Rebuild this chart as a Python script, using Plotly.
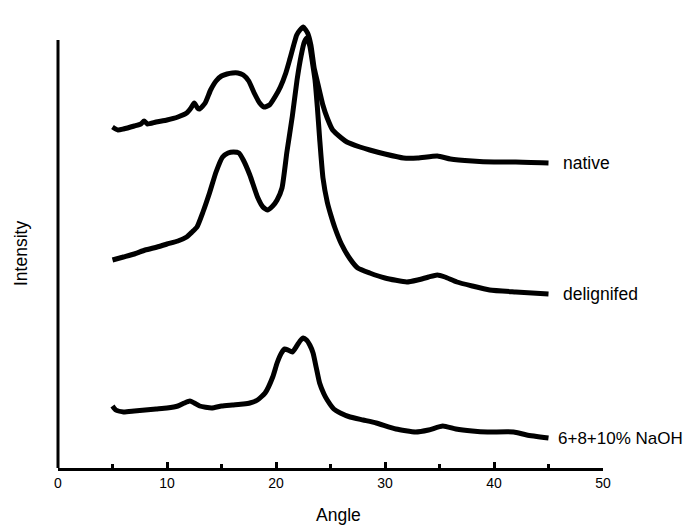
import plotly.graph_objects as go

# Native
x_native = [5,5.5,6,7,7.6,7.9,8.2,9,10,11,11.8,12.2,12.5,12.8,13,13.5,14,14.5,15,15.5,16,16.5,17,17.5,18,18.5,18.9,19.4,19.9,20.4,20.9,21.3,21.9,22.2,22.5,22.9,23.2,23.5,23.76,24.3,24.7,25.2,26.0,26.5,27.7,28.6,30,31.7,33,34.8,36,38,40,42,45]
y_native = [341,338,339,342,344,347,344,346,348,351,355,360,365,360,359,365,378,387,392,394,395,395,393,387,375,365,361,363,371,381,395,410,433,438,441,435,423,400,388,363,350,338,330,326,321,318,314,310,310,312,309,307,306,306,305]

# Delignified
x_delig = [5,6,7,8,9.1,10,11,11.8,12.3,12.75,13.3,13.9,14.5,15.1,15.6,16.1,16.6,17,17.6,18.3,18.8,19.2,19.7,20.1,20.55,21.0,21.5,21.93,22.3,22.6,22.85,23.1,23.35,23.58,23.8,24.0,24.31,24.7,25.0,25.41,26.0,26.8,27.5,28.6,30,32,33,34,34.8,35.5,36.6,38,39.6,42,45]
y_delig = [208,211,214,218,221,224,227,231,236,241,256,275,296,311,315,316,315,308,293,271,261,258,262,268,280,316,352,388,412,426,430,422,405,388,360,330,290,266,254,240,224,209,200,195,190,186,188,191,193,191,186,182,178,176,174]

# 6+8+10% NaOH
x_naoh = [5,5.3,6,7,8,9,10,11,11.6,12.1,12.5,13,14.1,15,16,17,17.6,18.3,19.0,19.7,20.1,20.5,20.8,21.1,21.5,21.9,22.2,22.5,22.8,23.1,23.4,23.7,24.0,24.4,24.7,25.3,25.9,26.8,28,29.2,31,32.8,34,35.3,36.5,38,39.4,41.8,43,45]
y_naoh = [62,58,56,57,58,59,60,62,65,67,65,62,60,62,63,64,65,68,75,91,105,115,119,118,116,122,127,130,128,123,115,100,85,74,68,59,55,51,48,45,39,36,38,42,39,37,36,36,33,30]

series = [
    ("native", x_native, y_native, 46.2, 17.5),
    ("delignifed", x_delig, y_delig, 46.2, 17.5),
    ("6+8+10% NaOH", x_naoh, y_naoh, 45.75, 17),
]

Y_AXIS_TOP = 428
Y_MAX = 445
FONT = "Liberation Sans, Arial"

# The page body has an 8px margin; size the figure so it fits the window exactly
fig = go.Figure()
for name, xs, ys, lx, fs in series:
    fig.add_trace(go.Scatter(x=xs, y=ys, mode="lines", name=name,
                             line=dict(color="black", width=5, shape="spline", smoothing=0.5),
                             showlegend=False, cliponaxis=False))
    fig.add_annotation(x=lx, y=ys[-1], text=name, showarrow=False, xanchor="left",
                       yanchor="middle", borderpad=0,
                       font=dict(family=FONT, size=fs, color="black"))

fig.add_shape(type="line", xref="paper", yref="paper", x0=0, x1=0, y0=0,
              y1=Y_AXIS_TOP / Y_MAX, line=dict(color="black", width=3))

fig.add_annotation(xref="paper", yref="paper", x=-37 / 545, y=214 / 445, text="Intensity",
                   textangle=-90, showarrow=False, xanchor="center", yanchor="middle",
                   font=dict(family=FONT, size=17.5, color="black"))
fig.add_annotation(xref="paper", yref="paper", x=280 / 545, y=-47 / 445, yanchor="middle",
                   xanchor="center", text="Angle", showarrow=False,
                   font=dict(family=FONT, size=17.5, color="black"))

fig.update_layout(
    width=685, height=517,
    margin=dict(l=50, r=90, t=15, b=57),
    paper_bgcolor="white", plot_bgcolor="white",
    xaxis=dict(range=[0, 50], dtick=10, tick0=0, showline=True, linecolor="black", linewidth=3,
               ticks="inside", ticklen=6, tickwidth=3, tickcolor="black", showgrid=False,
               zeroline=False,
               minor=dict(dtick=5, tick0=0, ticks="inside", ticklen=4, tickwidth=3, tickcolor="black"),
               tickfont=dict(family=FONT, size=14, color="#000000")),
    yaxis=dict(range=[0, Y_MAX], showline=False, showticklabels=False, ticks="",
               showgrid=False, zeroline=False),
)

fig.write_html("out.html")
